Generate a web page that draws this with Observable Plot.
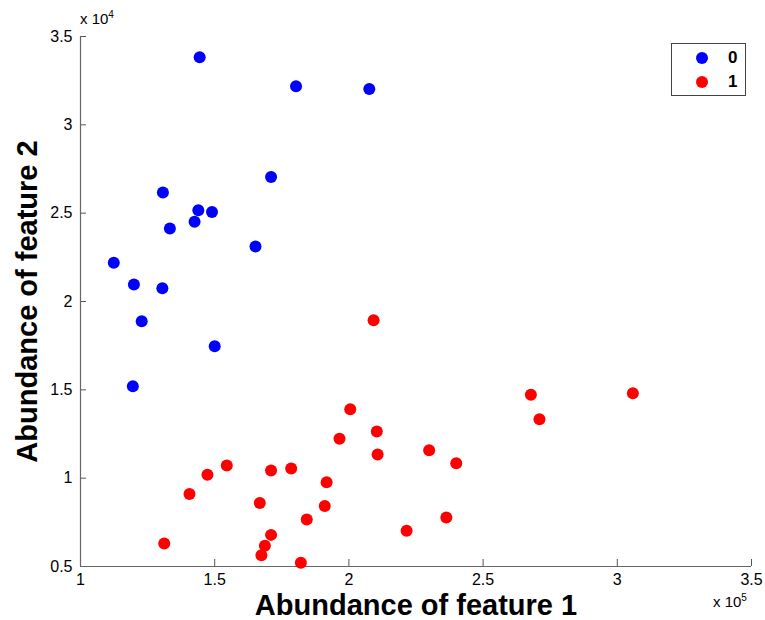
<!DOCTYPE html>
<html>
<head>
<meta charset="utf-8">
<script src="https://cdn.jsdelivr.net/npm/d3@7"></script>
<script src="https://cdn.jsdelivr.net/npm/@observablehq/plot@0.6"></script>
<style>
  html, body { margin: 0; padding: 0; background: #fff; }
  #wrap { position: relative; width: 765px; height: 620px; font-family: "Liberation Sans", Arial, sans-serif; }
  .exp { position: absolute; font-size: 15px; color: #000; white-space: nowrap; }
  .exp sup { font-size: 10px; vertical-align: 6px; }
  #legend { position: absolute; left: 671px; top: 43px; width: 75px; height: 53px; border: 1px solid #444; background: #fff; box-sizing: border-box; }
  .lg-row { position: absolute; left: 0; height: 20px; width: 100%; }
  .lg-dot { position: absolute; left: 24px; top: 4px; width: 12px; height: 12px; border-radius: 50%; }
  .lg-txt { position: absolute; left: 56px; top: 0; font-size: 17px; font-weight: bold; line-height: 20px; }
</style>
</head>
<body>
<div id="wrap">
  <div id="chart"></div>
  <div class="exp" style="left:80px; top:9px;">x 10<sup>4</sup></div>
  <div class="exp" style="left:713px; top:592px;">x 10<sup>5</sup></div>
  <div id="legend"></div>
</div>
<script>
// Class 0 (blue)
const feature1_class0 = [144400, 180300, 207600, 171000, 130700, 143900, 149000, 142500, 133300, 165200, 112400, 119900, 130500, 122800, 150000, 119500];
const feature2_class0 = [33820, 32180, 32030, 27050, 26170, 25160, 25070, 24510, 24130, 23110, 22190, 20960, 20750, 18880, 17470, 15200];
// Class 1 (red)
const feature1_class1 = [209200, 200500, 210400, 196500, 210700, 154500, 178500, 171000, 147300, 191700, 140600, 166800, 191000, 184300, 171000, 168700, 131200, 167400, 182100, 267800, 305800, 271000, 229900, 240000, 236300, 221500];
const feature2_class1 = [18940, 13900, 12640, 12230, 11340, 10720, 10550, 10430, 10190, 9770, 9110, 8600, 8430, 7660, 6790, 6170, 6300, 5640, 5210, 14720, 14810, 13340, 11580, 10850, 7770, 7020];

const classes = ["0", "1"];
const classColors = ["#0000ff", "#ff0000"];
const xTicks = [100000, 150000, 200000, 250000, 300000, 350000];
const yTicks = [5000, 10000, 15000, 20000, 25000, 30000, 35000];
const xLabel = "Abundance of feature 1";
const yLabel = "Abundance of feature 2";

const data = [
  ...feature1_class0.map((v, i) => ({f1: v, f2: feature2_class0[i], cls: "0"})),
  ...feature1_class1.map((v, i) => ({f1: v, f2: feature2_class1[i], cls: "1"}))
];

const chart = Plot.plot({
  width: 765,
  height: 620,
  marginLeft: 80,
  marginRight: 14,
  marginTop: 36,
  marginBottom: 54,
  style: {fontFamily: "'Liberation Sans', Arial, sans-serif", color: "#000", background: "#fff"},
  x: {domain: [100000, 350000]},
  y: {domain: [5000, 35000]},
  color: {domain: classes, range: classColors},
  marks: [
    Plot.axisX({ticks: xTicks, tickFormat: d => String(d / 1e5), tickSize: -7, tickPadding: 14, fontSize: 16, label: null, stroke: "#555"}),
    Plot.axisY({ticks: yTicks, tickFormat: d => String(d / 1e4), tickSize: -6, tickPadding: 14, fontSize: 16, label: null, stroke: "#555"}),
    Plot.ruleX([100000], {stroke: "#666", strokeWidth: 1.2}),
    Plot.ruleY([5000], {stroke: "#666", strokeWidth: 1.2}),
    Plot.dot(data, {x: "f1", y: "f2", fill: "cls", r: 6, stroke: null}),
    Plot.text([xLabel], {frameAnchor: "bottom", textAnchor: "middle", lineAnchor: "middle", dy: 39, fontSize: 29, fontWeight: "bold", fill: "#000"}),
    Plot.text([yLabel], {frameAnchor: "left", textAnchor: "middle", lineAnchor: "middle", rotate: -90, dx: -53, fontSize: 29, fontWeight: "bold", fill: "#000"})
  ]
});
document.getElementById("chart").appendChild(chart);

const legend = document.getElementById("legend");
classes.forEach((c, i) => {
  const row = document.createElement("div");
  row.className = "lg-row";
  row.style.top = (4 + i * 23.5) + "px";
  row.innerHTML = `<div class="lg-dot" style="background:${classColors[i]}"></div><div class="lg-txt">${c}</div>`;
  legend.appendChild(row);
});
</script>
</body>
</html>
